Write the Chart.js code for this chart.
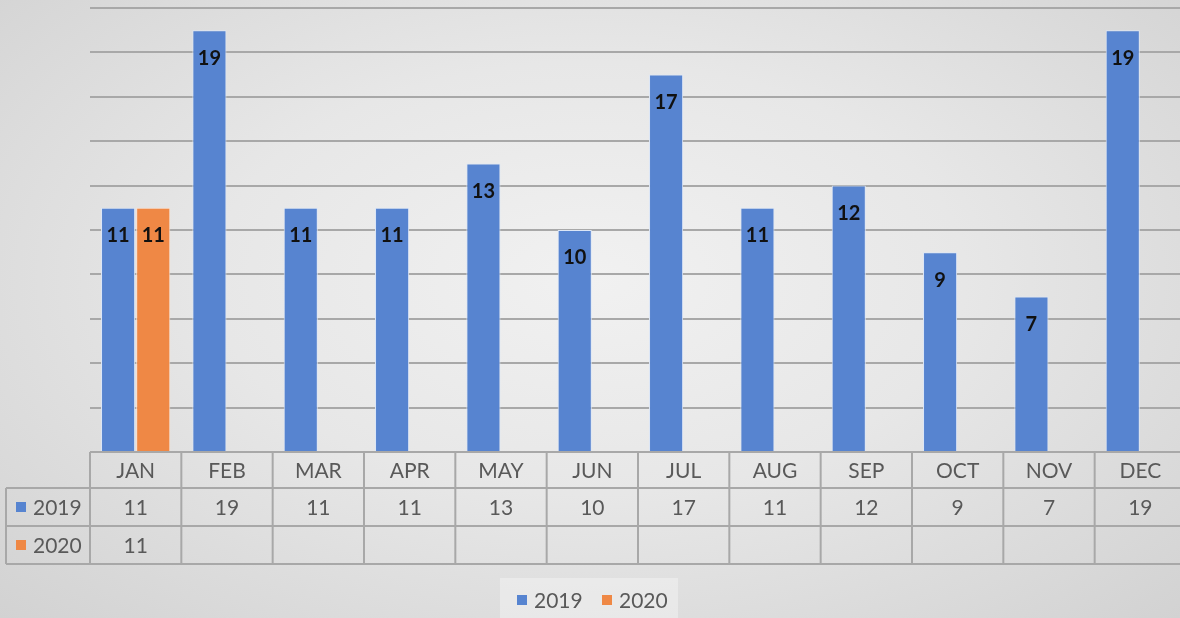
<!DOCTYPE html>
<html>
<head>
<meta charset="utf-8">
<script src="https://cdn.jsdelivr.net/npm/chart.js@4.4.1/dist/chart.umd.min.js"></script>
<style>
html, body { margin: 0; padding: 0; width: 1180px; height: 618px; overflow: hidden; }
body { background: radial-gradient(ellipse at 50% 45%, #f1f1f1 0%, #e7e7e7 45%, #d2d2d2 100%); }
#wrap { width: 1190px; height: 618px; }
</style>
</head>
<body>
<div id="wrap"><canvas id="myChart" width="1190" height="618"></canvas></div>
<script>
const months = ['JAN', 'FEB', 'MAR', 'APR', 'MAY', 'JUN', 'JUL', 'AUG', 'SEP', 'OCT', 'NOV', 'DEC'];
const seriesNames = ['2019', '2020'];
const values2019 = [11, 19, 11, 11, 13, 10, 17, 11, 12, 9, 7, 19];
const values2020 = [11, null, null, null, null, null, null, null, null, null, null, null];
const yMax = 20;
const yStep = 2;

const blue = '#5784d0';
const orange = '#ef8845';
const textGray = '#595959';
const lineGray = '#a8a8a8';
const font = 'Lato, "Open Sans", sans-serif';

// data table under the plot + value labels + legend
const tablePlugin = {
    id: 'tablePlugin',
    afterDatasetsDraw(chart) {
        const ctx = chart.ctx;
        ctx.save();
        ctx.fillStyle = '#111';
        ctx.font = 'bold 20px ' + font;
        ctx.textAlign = 'center';
        ctx.textBaseline = 'middle';
        chart.data.datasets.forEach((ds, d) => {
            const meta = chart.getDatasetMeta(d);
            meta.data.forEach((bar, i) => {
                if (ds.data[i] == null) return;
                ctx.fillText(ds.data[i], bar.x, bar.y + 28);
            });
        });
        ctx.restore();
    },
    afterDraw(chart) {
        const ctx = chart.ctx;
        const x = chart.scales.x;
        const half = (x.getPixelForValue(1) - x.getPixelForValue(0)) / 2;
        const left = x.getPixelForValue(0) - half;
        const right = x.getPixelForValue(months.length - 1) + half;
        const rows = [chart.chartArea.bottom, 488, 526, 564];
        ctx.save();
        ctx.strokeStyle = lineGray;
        ctx.lineWidth = 2;
        ctx.beginPath();
        ctx.moveTo(left, rows[0]); ctx.lineTo(right, rows[0]);
        for (let r = 1; r < rows.length; r++) {
            ctx.moveTo(6, rows[r]); ctx.lineTo(right, rows[r]);
        }
        ctx.moveTo(6, rows[1]); ctx.lineTo(6, rows[3]);
        for (let i = 0; i <= months.length; i++) {
            const bx = left + i * half * 2;
            ctx.moveTo(bx, rows[0]); ctx.lineTo(bx, rows[3]);
        }
        ctx.stroke();

        ctx.fillStyle = textGray;
        ctx.font = '21px ' + font;
        ctx.textAlign = 'center';
        ctx.textBaseline = 'middle';
        const series = [values2019, values2020];
        months.forEach((m, i) => {
            const cx = x.getPixelForValue(i);
            ctx.fillText(m, cx, (rows[0] + rows[1]) / 2 + 1);
            series.forEach((vals, s) => {
                if (vals[i] != null) ctx.fillText(vals[i], cx, (rows[s + 1] + rows[s + 2]) / 2 + 1);
            });
        });
        // row headers
        ctx.textAlign = 'left';
        [blue, orange].forEach((c, s) => {
            const cy = (rows[s + 1] + rows[s + 2]) / 2;
            ctx.fillStyle = c;
            ctx.fillRect(16, cy - 5, 10, 10);
            ctx.fillStyle = textGray;
            ctx.fillText(seriesNames[s], 33, cy + 1);
        });

        // legend
        ctx.fillStyle = 'rgba(240,240,240,0.6)';
        ctx.fillRect(500, 578, 178, 40);
        let lx = 517;
        [blue, orange].forEach((c, s) => {
            ctx.fillStyle = c;
            ctx.fillRect(lx, 595, 10, 10);
            ctx.fillStyle = textGray;
            ctx.fillText(seriesNames[s], lx + 17, 601);
            lx += 85;
        });
        ctx.restore();
    }
};

const data = {
    labels: months,
    datasets: [{
        label: seriesNames[0],
        data: values2019,
        backgroundColor: blue,
        borderColor: '#dce6f6',
        borderWidth: 1
    }, {
        label: seriesNames[1],
        data: values2020,
        backgroundColor: orange,
        borderColor: '#fbe1cf',
        borderWidth: 1
    }]
};

const config = {
    type: 'bar',
    data: data,
    options: {
        responsive: false,
        animation: false,
        categoryPercentage: 0.77,
        barPercentage: 0.97,
        layout: {
            padding: { left: 90, right: 4, top: 8, bottom: 166 }
        },
        plugins: {
            legend: { display: false },
            tooltip: { enabled: false }
        },
        scales: {
            x: { display: false },
            y: {
                min: 0,
                max: yMax,
                ticks: { display: false, stepSize: yStep },
                border: { display: false },
                grid: { color: lineGray, lineWidth: 2, drawTicks: false },
                afterFit(scale) { scale.width = 0; }
            }
        }
    },
    plugins: [tablePlugin]
};

let myChart = new Chart(
    document.getElementById('myChart'),
    config,
);
</script>
</body>
</html>
